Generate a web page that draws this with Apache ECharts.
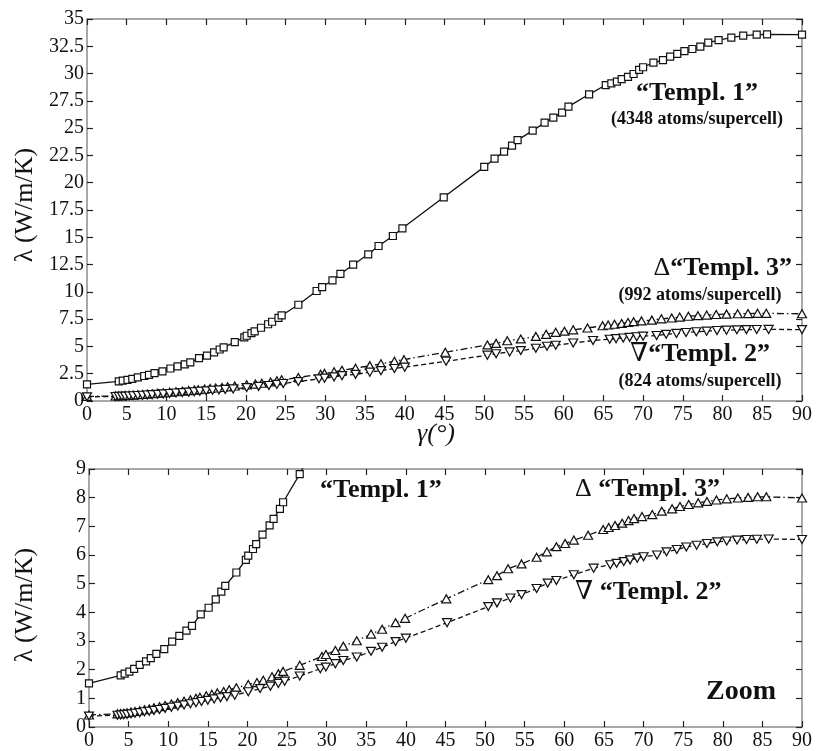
<!DOCTYPE html>
<html>
<head>
<meta charset="utf-8">
<script src="https://cdn.jsdelivr.net/npm/echarts@6/dist/echarts.min.js"></script>
<style>
  html, body { margin: 0; padding: 0; background: #fff; }
  #chart { width: 816px; height: 751px; }
</style>
</head>
<body>
<div id="chart"></div>
<script>
// [gamma (deg), lambda (W/m/K)]
const templ1 = [
  [0, 1.52], [4.0, 1.80], [4.5, 1.86], [5.1, 1.93], [5.7, 2.03], [6.4, 2.17], [7.2, 2.29],
  [7.8, 2.40], [8.5, 2.55], [9.5, 2.72], [10.5, 2.98], [11.4, 3.18], [12.3, 3.36], [13.0, 3.53],
  [14.1, 3.93], [15.1, 4.16], [16.0, 4.45], [16.7, 4.72], [17.2, 4.92], [18.6, 5.39], [19.8, 5.83],
  [20.1, 5.98], [20.7, 6.21], [21.1, 6.38], [21.9, 6.71], [22.8, 7.03], [23.3, 7.26], [24.1, 7.61],
  [24.5, 7.84], [26.6, 8.82], [28.9, 10.08], [29.6, 10.44], [30.9, 11.06], [31.9, 11.64],
  [33.5, 12.49], [35.4, 13.44], [36.7, 14.2], [38.5, 15.12], [39.7, 15.82], [44.9, 18.66],
  [50.0, 21.45], [51.3, 22.2], [52.5, 22.85], [53.5, 23.4], [54.2, 23.9], [56.1, 24.77],
  [57.6, 25.5], [58.7, 25.96], [59.8, 26.42], [60.6, 26.97], [63.2, 28.1], [65.3, 28.95],
  [66.0, 29.1], [66.7, 29.26], [67.3, 29.5], [68.1, 29.7], [68.8, 29.96], [69.5, 30.33],
  [70.0, 30.58], [71.3, 31.0], [72.5, 31.24], [73.4, 31.55], [74.3, 31.8], [75.2, 32.05],
  [76.2, 32.25], [77.2, 32.46], [78.2, 32.83], [79.5, 33.07], [81.1, 33.3], [82.6, 33.47],
  [84.3, 33.56], [85.6, 33.6], [90, 33.56]
];
const templ3 = [
  [0, 0.42], [3.6, 0.46], [4.0, 0.47], [4.4, 0.48], [4.8, 0.50], [5.3, 0.52], [5.8, 0.54],
  [6.4, 0.57], [7.0, 0.60], [7.6, 0.63], [8.2, 0.67], [8.9, 0.71], [9.6, 0.75], [10.4, 0.80],
  [11.2, 0.85], [12.0, 0.90], [12.8, 0.95], [13.5, 1.00], [14.0, 1.04], [14.8, 1.09], [15.5, 1.14],
  [16.2, 1.19], [17.0, 1.24], [17.7, 1.30], [18.6, 1.37], [20.1, 1.48], [21.2, 1.55], [22.0, 1.63],
  [23.1, 1.75], [23.9, 1.86], [24.5, 1.94], [26.6, 2.15], [29.4, 2.46], [29.9, 2.53], [31.1, 2.67],
  [32.1, 2.82], [33.8, 3.01], [35.6, 3.24], [37.0, 3.41], [38.7, 3.64], [39.9, 3.79], [45.1, 4.47],
  [50.4, 5.14], [51.5, 5.28], [52.9, 5.52], [54.6, 5.69], [56.5, 5.92], [57.8, 6.11], [59.0, 6.29],
  [60.1, 6.40], [61.2, 6.52], [63.0, 6.69], [64.9, 6.89], [65.6, 6.96], [66.4, 7.03], [67.3, 7.11],
  [68.1, 7.20], [68.8, 7.27], [69.8, 7.34], [71.1, 7.41], [72.3, 7.53], [73.6, 7.61], [74.6, 7.69],
  [75.7, 7.76], [76.9, 7.82], [78.0, 7.87], [79.2, 7.92], [80.5, 7.96], [81.9, 7.99], [83.2, 8.01],
  [84.4, 8.03], [85.5, 8.03], [90, 7.99]
];
const templ2 = [
  [0, 0.38], [3.6, 0.41], [4.0, 0.42], [4.4, 0.43], [4.8, 0.44], [5.3, 0.46], [5.8, 0.48],
  [6.4, 0.50], [7.0, 0.53], [7.6, 0.55], [8.2, 0.58], [8.9, 0.61], [9.6, 0.65], [10.4, 0.69],
  [11.2, 0.73], [12.0, 0.77], [12.8, 0.81], [13.5, 0.85], [14.2, 0.89], [15.0, 0.93], [15.8, 0.98],
  [16.6, 1.02], [17.4, 1.06], [18.4, 1.11], [20.1, 1.23], [21.6, 1.34], [22.9, 1.42], [23.9, 1.52],
  [24.7, 1.60], [26.6, 1.78], [29.2, 2.03], [29.9, 2.09], [31.1, 2.21], [32.1, 2.32], [33.8, 2.44],
  [35.6, 2.64], [37.0, 2.78], [38.7, 2.98], [40.0, 3.10], [45.2, 3.64], [50.4, 4.20], [51.5, 4.33],
  [53.2, 4.50], [54.6, 4.62], [56.5, 4.83], [57.9, 5.02], [59.0, 5.11], [61.2, 5.31], [63.7, 5.54],
  [65.8, 5.66], [66.6, 5.71], [67.5, 5.77], [68.3, 5.83], [69.2, 5.89], [70.0, 5.94], [71.7, 6.00],
  [72.9, 6.11], [74.2, 6.19], [75.4, 6.28], [76.7, 6.34], [78.0, 6.40], [79.3, 6.46], [80.5, 6.49],
  [81.8, 6.52], [83.0, 6.54], [84.3, 6.55], [85.8, 6.56], [90, 6.54]
];

const serif = '"Liberation Serif", "DejaVu Serif", serif';

const chart = echarts.init(document.getElementById('chart'), null, { renderer: 'canvas' });

function xAx(grid, pos, labels) {
  return {
    type: 'value', gridIndex: grid, position: pos, min: 0, max: 90, interval: 5,
    axisLine: { show: true, onZero: false, lineStyle: { color: '#8c8c8c', width: 1.5 } },
    axisTick: { show: true, inside: true, length: 6, lineStyle: { color: '#222', width: 1.2 } },
    axisLabel: { show: labels, fontFamily: serif, fontSize: 20, color: '#111', margin: 4 },
    splitLine: { show: false }
  };
}
function yAx(grid, pos, max, step, labels) {
  return {
    type: 'value', gridIndex: grid, position: pos, min: 0, max: max, interval: step,
    axisLine: { show: true, onZero: false, lineStyle: { color: '#8c8c8c', width: 1.5 } },
    axisTick: { show: true, inside: true, length: 6, lineStyle: { color: '#222', width: 1.2 } },
    axisLabel: { show: labels, fontFamily: serif, fontSize: 20, color: '#111', margin: 3 },
    splitLine: { show: false }
  };
}

function lineSeries(data, xi, yi, symbol, rotate, dash) {
  return {
    type: 'line', xAxisIndex: xi, yAxisIndex: yi, data: data,
    symbol: symbol, symbolRotate: rotate,
    symbolSize: symbol === 'rect' ? 7 : [9, 8],
    showAllSymbol: true, clip: true, animation: false,
    lineStyle: { color: '#111', width: 1.3, type: dash },
    itemStyle: { color: '#fff', borderColor: '#111', borderWidth: 1.2 }
  };
}

const bigFont = 'bold 26px ' + serif;
const smallFont = 'bold 18px ' + serif;
function txt(x, y, text, font, align) {
  return {
    type: 'text', x: x, y: y, z: 100,
    style: { text: text, font: font, fill: '#111', align: align || 'left', verticalAlign: 'middle' }
  };
}
// label with a thin (non-bold) Δ / ∇ glyph in front of bold text
function symTxt(x, y, sym, text, align) {
  return {
    type: 'text', x: x, y: y, z: 100,
    style: {
      text: '{s|' + sym + '}{b|' + text + '}',
      align: align || 'left', verticalAlign: 'middle', fill: '#111',
      rich: {
        s: { fontFamily: serif, fontSize: 26, fontWeight: 'normal', fill: '#111' },
        b: { fontFamily: serif, fontSize: 26, fontWeight: 'bold', fill: '#111' }
      }
    }
  };
}

const options = {
  backgroundColor: '#fff',
  animation: false,
  grid: [
    { left: 87, right: 14, top: 19, height: 382 },
    { left: 89, right: 14, top: 469, height: 260 }
  ],
  xAxis: [xAx(0, 'bottom', true), xAx(0, 'top', false), xAx(1, 'bottom', true), xAx(1, 'top', false)],
  yAxis: [
    yAx(0, 'left', 35, 2.5, true), yAx(0, 'right', 35, 2.5, false),
    yAx(1, 'left', 9, 1, true), yAx(1, 'right', 9, 1, false)
  ],
  series: [
    lineSeries(templ1, 0, 0, 'rect', 0, 'solid'),
    lineSeries(templ3, 0, 0, 'triangle', 0, [7, 3, 1.5, 3]),
    lineSeries(templ2, 0, 0, 'triangle', 180, [5, 3]),
    lineSeries(templ1, 2, 2, 'rect', 0, 'solid'),
    lineSeries(templ3, 2, 2, 'triangle', 0, [7, 3, 1.5, 3]),
    lineSeries(templ2, 2, 2, 'triangle', 180, [5, 3])
  ],
  graphic: [
    // axis titles
    { type: 'text', x: 25, y: 205, rotation: Math.PI / 2, z: 100,
      style: { text: 'λ (W/m/K)', font: '26px ' + serif, fill: '#111', align: 'center', verticalAlign: 'middle' } },
    { type: 'text', x: 25, y: 605, rotation: Math.PI / 2, z: 100,
      style: { text: 'λ (W/m/K)', font: '26px ' + serif, fill: '#111', align: 'center', verticalAlign: 'middle' } },
    { type: 'text', x: 436, y: 434, z: 100,
      style: { text: 'γ(°)', font: 'italic 26px ' + serif, fill: '#111', align: 'center', verticalAlign: 'middle' } },
    // top panel labels
    txt(697, 93, '“Templ. 1”', bigFont, 'center'),
    txt(697, 119, '(4348 atoms/supercell)', smallFont, 'center'),
    symTxt(792, 268, 'Δ', '“Templ. 3”', 'right'),
    txt(700, 295, '(992 atoms/supercell)', smallFont, 'center'),
    symTxt(700, 354, '∇', '“Templ. 2”', 'center'),
    txt(700, 381, '(824 atoms/supercell)', smallFont, 'center'),
    // bottom panel labels
    txt(320, 490, '“Templ. 1”', bigFont, 'left'),
    symTxt(575, 489, 'Δ ', '“Templ. 3”', 'left'),
    symTxt(575, 592, '∇ ', '“Templ. 2”', 'left'),
    txt(776, 692, 'Zoom', 'bold 28px ' + serif, 'right')
  ]
};

chart.setOption(options);
</script>
</body>
</html>
